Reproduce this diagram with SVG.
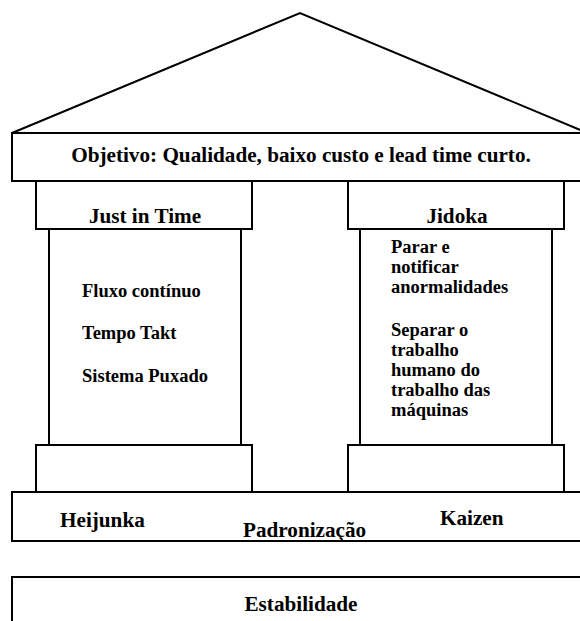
<svg xmlns="http://www.w3.org/2000/svg" width="580" height="621" viewBox="0 0 580 621">
<style>
.s{fill:#fff;stroke:#000;stroke-width:2}
.l{fill:none;stroke:#000;stroke-width:2}
text{font-family:"Liberation Serif","Times New Roman",serif;font-weight:bold;fill:#000}
.t{font-size:21.2px}
.b{font-size:18.5px}
.c{text-anchor:middle}
</style>
<g id="roof"><polyline class="l" points="12,133 300,13 590,134"/></g>
<g id="objetivo">
<rect class="s" x="12" y="133" width="580" height="48"/>
<text class="t c" x="301" y="162">Objetivo: Qualidade, baixo custo e lead time curto.</text>
</g>
<g id="jit">
<rect class="s" x="49" y="229" width="192" height="216"/>
<rect class="s" x="36" y="181" width="216" height="48"/>
<rect class="s" x="36" y="445" width="216" height="47"/>
<text class="t c" x="145" y="223">Just in Time</text>
<text class="b" x="82" y="297">Fluxo contínuo</text>
<text class="b" x="82" y="339">Tempo Takt</text>
<text class="b" x="82" y="382">Sistema Puxado</text>
</g>
<g id="jidoka">
<rect class="s" x="360" y="229" width="192" height="216"/>
<rect class="s" x="348" y="181" width="216" height="48"/>
<rect class="s" x="348" y="445" width="216" height="47"/>
<text class="t c" x="457" y="223">Jidoka</text>
<text class="b" x="391" y="253">Parar e</text>
<text class="b" x="391" y="273">notificar</text>
<text class="b" x="391" y="293">anormalidades</text>
<text class="b" x="391" y="336">Separar o</text>
<text class="b" x="391" y="356">trabalho</text>
<text class="b" x="391" y="376">humano do</text>
<text class="b" x="391" y="396">trabalho das</text>
<text class="b" x="391" y="416">máquinas</text>
</g>
<g id="base">
<rect class="s" x="12" y="492" width="580" height="49"/>
<text class="t" x="60" y="527">Heijunka</text>
<text class="t" x="243" y="537">Padronização</text>
<text class="t" x="440" y="525">Kaizen</text>
</g>
<g id="estabilidade">
<rect class="s" x="12" y="577" width="580" height="60"/>
<text class="t c" x="301" y="611">Estabilidade</text>
</g>
<g id="connectors"/>
</svg>
